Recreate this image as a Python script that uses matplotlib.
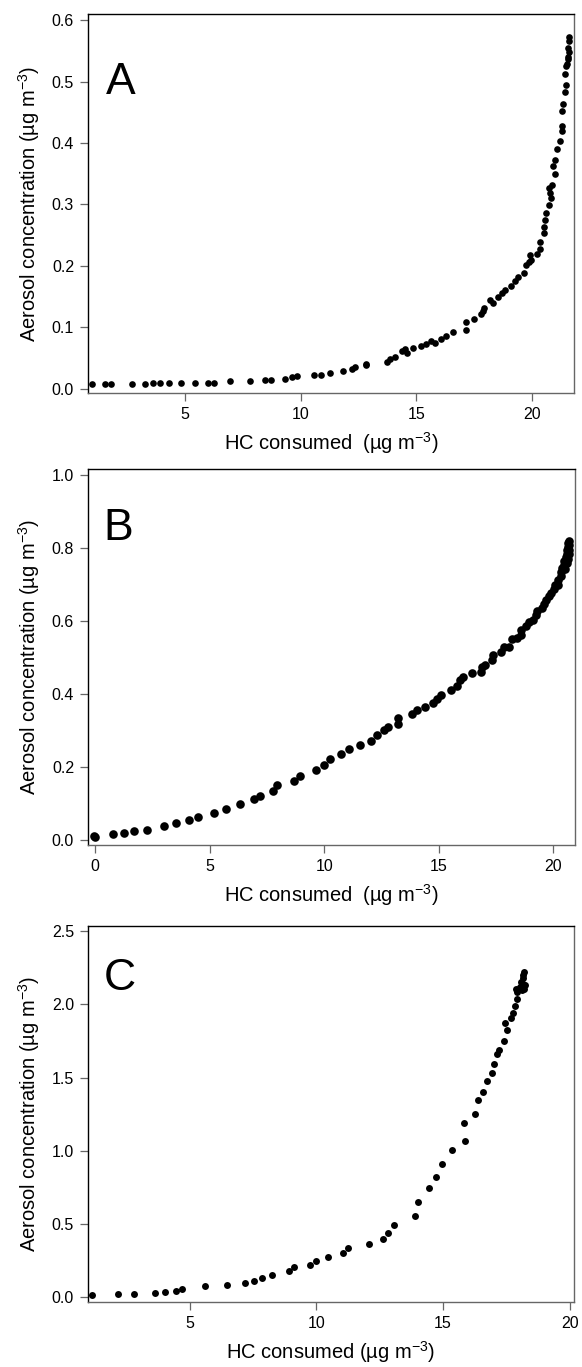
import numpy as np
import matplotlib
matplotlib.use("Agg")
import matplotlib.pyplot as plt

plt.rcParams['font.family'] = ['Liberation Sans', 'DejaVu Sans']
plt.rcParams['mathtext.fontset'] = 'custom'
plt.rcParams['mathtext.rm'] = 'Liberation Sans'
plt.rcParams['mathtext.default'] = 'regular'

# Panel A data
a_x = [1.0, 1.56, 1.8, 2.7, 3.26, 3.64, 3.91, 4.33, 4.84, 5.45, 6.0, 6.25, 6.95, 7.8,
       8.47, 8.7, 9.34, 9.64, 9.83, 10.57, 10.86, 11.27, 11.83, 12.2, 12.36, 12.84, 12.84,
       13.71, 13.88, 14.06, 14.36, 14.52, 14.6, 14.84, 15.2, 15.4, 15.64, 15.8, 16.07,
       16.28, 16.57, 17.13, 17.13, 17.48, 17.77, 17.88, 17.94, 18.17, 18.33, 18.52, 18.68,
       18.84, 19.08, 19.27, 19.4, 19.64, 19.72, 19.85, 19.96, 19.93, 20.2, 20.33, 20.36,
       20.52, 20.52, 20.55, 20.6, 20.73, 20.81, 20.76, 20.73, 20.84, 21.0, 20.92, 21.0,
       21.08, 21.19, 21.27, 21.29, 21.29, 21.35, 21.4, 21.48, 21.43, 21.51, 21.56, 21.56,
       21.59, 21.59, 21.47, 21.6, 21.55]
a_y = [0.007, 0.007, 0.007, 0.007, 0.008, 0.009, 0.009, 0.009, 0.010, 0.010, 0.010, 0.010,
       0.012, 0.013, 0.014, 0.014, 0.016, 0.019, 0.021, 0.022, 0.023, 0.026, 0.029, 0.032,
       0.035, 0.038, 0.040, 0.044, 0.049, 0.052, 0.062, 0.064, 0.058, 0.067, 0.070, 0.073,
       0.077, 0.074, 0.081, 0.086, 0.092, 0.095, 0.108, 0.114, 0.122, 0.126, 0.132, 0.145,
       0.139, 0.149, 0.155, 0.160, 0.168, 0.176, 0.182, 0.189, 0.201, 0.207, 0.209, 0.217,
       0.219, 0.227, 0.239, 0.253, 0.264, 0.275, 0.286, 0.299, 0.310, 0.319, 0.327, 0.332,
       0.349, 0.362, 0.373, 0.390, 0.403, 0.420, 0.428, 0.452, 0.463, 0.483, 0.495, 0.513,
       0.529, 0.540, 0.554, 0.566, 0.573, 0.526, 0.548, 0.536]

# Panel B data
b_x = [-0.03, 0.0, 0.78, 1.26, 1.7, 2.27, 3.0, 3.52, 4.1, 4.47, 5.2, 5.72, 6.32, 6.92,
       7.18, 7.75, 7.93, 8.67, 8.96, 9.64, 10.0, 10.23, 10.75, 11.07, 11.56, 12.04, 12.29,
       12.6, 12.8, 13.2, 13.22, 13.83, 14.04, 14.41, 14.76, 14.93, 15.09, 15.54, 15.77,
       15.93, 16.06, 16.45, 16.82, 16.87, 17.0, 17.34, 17.36, 17.71, 17.85, 18.07, 18.2,
       18.41, 18.57, 18.6, 18.82, 18.93, 19.09, 19.25, 19.3, 19.5, 19.58, 19.66, 19.79,
       19.9, 20.02, 20.06, 20.19, 20.22, 20.31, 20.34, 20.39, 20.44, 20.47, 20.55, 20.58,
       20.6, 20.63, 20.63, 20.66, 20.52, 20.58, 20.62, 20.66, 20.68, 20.68]
b_y = [0.012, 0.007, 0.015, 0.019, 0.024, 0.028, 0.037, 0.045, 0.054, 0.064, 0.074, 0.085,
       0.097, 0.111, 0.120, 0.133, 0.149, 0.161, 0.176, 0.192, 0.204, 0.222, 0.234, 0.248,
       0.259, 0.271, 0.286, 0.300, 0.309, 0.318, 0.334, 0.344, 0.355, 0.364, 0.375, 0.385,
       0.398, 0.411, 0.421, 0.437, 0.446, 0.458, 0.460, 0.473, 0.478, 0.494, 0.507, 0.516,
       0.528, 0.528, 0.549, 0.553, 0.562, 0.576, 0.585, 0.597, 0.603, 0.615, 0.626, 0.635,
       0.647, 0.656, 0.668, 0.677, 0.688, 0.697, 0.699, 0.711, 0.723, 0.734, 0.745, 0.754,
       0.763, 0.775, 0.784, 0.793, 0.803, 0.812, 0.818, 0.742, 0.758, 0.770, 0.782, 0.795,
       0.808]

# Panel C data
c_x = [1.16, 2.19, 2.82, 3.65, 4.03, 4.47, 4.68, 5.6, 6.46, 7.18, 7.55, 7.86, 8.25, 8.92,
       9.13, 9.74, 9.99, 10.48, 11.06, 11.27, 12.07, 12.63, 12.83, 13.05, 13.89, 14.0,
       14.44, 14.71, 14.96, 15.34, 15.81, 15.88, 16.26, 16.39, 16.57, 16.73, 16.95, 17.02,
       17.15, 17.2, 17.39, 17.53, 17.46, 17.68, 17.78, 17.85, 17.93, 17.93, 17.9, 18.03,
       18.07, 18.14, 18.17, 18.18, 18.2, 18.25, 18.1, 18.17]
c_y = [0.018, 0.023, 0.025, 0.030, 0.039, 0.046, 0.059, 0.075, 0.087, 0.098, 0.114, 0.132,
       0.153, 0.178, 0.205, 0.219, 0.247, 0.274, 0.304, 0.338, 0.365, 0.400, 0.441, 0.491,
       0.555, 0.651, 0.744, 0.822, 0.913, 1.005, 1.187, 1.068, 1.249, 1.347, 1.404, 1.473,
       1.530, 1.589, 1.662, 1.689, 1.747, 1.826, 1.872, 1.909, 1.941, 1.986, 2.039, 2.084,
       2.107, 2.119, 2.153, 2.176, 2.199, 2.217, 2.107, 2.130, 2.100, 2.140]

W, H = 582, 1367
fig = plt.figure(figsize=(W / 100, H / 100), dpi=100)

def box(l, r, t, b):
    return [l / W, 1 - b / H, (r - l) / W, (b - t) / H]

panels = [
    dict(x=a_x, y=a_y, rect=box(88, 574, 14, 393), xlim=(0.81, 21.81), ylim=(-0.007, 0.61),
         xt=[5, 10, 15, 20], yt=np.arange(0, 0.61, 0.1), ms=4.8, letter="A", lpos=(0.036, 0.79),
         xlab="HC consumed  (µg m$^{-3}$)"),
    dict(x=b_x, y=b_y, rect=box(88, 575, 469, 845), xlim=(-0.31, 20.94), ylim=(-0.014, 1.016),
         xt=[0, 5, 10, 15, 20], yt=np.arange(0, 1.01, 0.2), ms=6.2, letter="B", lpos=(0.032, 0.81),
         xlab="HC consumed  (µg m$^{-3}$)"),
    dict(x=c_x, y=c_y, rect=box(88, 574, 926, 1302), xlim=(0.99, 20.17), ylim=(-0.032, 2.534),
         xt=[5, 10, 15, 20], yt=np.arange(0, 2.51, 0.5), ms=5.0, letter="C", lpos=(0.032, 0.83),
         xlab="HC consumed (µg m$^{-3}$)"),
]

for p in panels:
    ax = fig.add_axes(p["rect"])
    ax.plot(p["x"], p["y"], "o", color="black", ms=p["ms"], mew=0)
    ax.set_xlim(*p["xlim"])
    ax.set_ylim(*p["ylim"])
    ax.set_xticks(p["xt"])
    ax.set_yticks(p["yt"])
    ax.yaxis.set_major_formatter(matplotlib.ticker.FormatStrFormatter("%.1f"))
    ax.tick_params(direction="out", length=6, width=0.9, color="#666666",
                   labelsize=11.5, pad=4)
    for side in ["left", "top"]:
        ax.spines[side].set_color("black")
        ax.spines[side].set_linewidth(1.0)
    for side in ["right", "bottom"]:
        ax.spines[side].set_color("#666666")
        ax.spines[side].set_linewidth(1.0)
    ax.set_xlabel(p["xlab"], fontsize=14.5, labelpad=6)
    ax.set_ylabel("Aerosol concentration (µg m$^{-3}$)", fontsize=14.5, labelpad=7)
    ax.text(p["lpos"][0], p["lpos"][1], p["letter"], transform=ax.transAxes,
            fontsize=32, ha="left", va="baseline")

fig.savefig("out.png", dpi=100)
